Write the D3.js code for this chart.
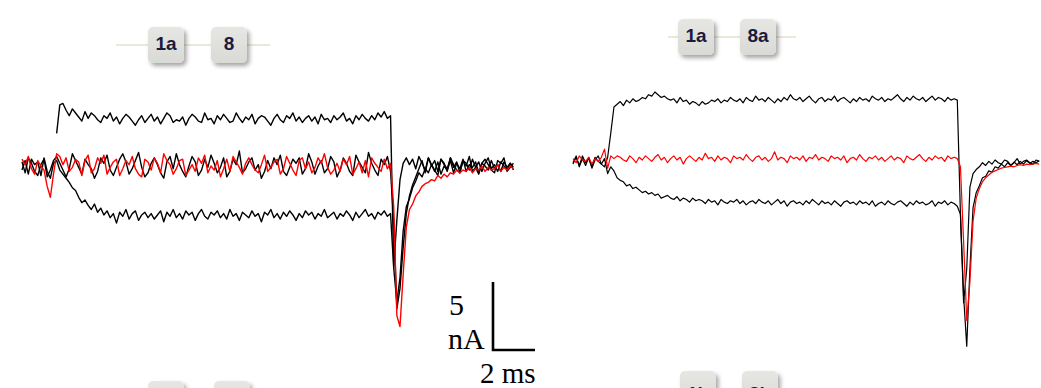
<!DOCTYPE html>
<html>
<head>
<meta charset="utf-8">
<script src="https://cdn.jsdelivr.net/npm/d3@7"></script>
<style>
  body { margin: 0; background: #fff; }
  svg { display: block; }
</style>
</head>
<body>
<div id="chart"></div>
<script>
// sampling interval of the traces (ms)
const dt = 0.15;

// left recording (nA), sample index -> t = i * dt
const leftMidStart = 0;
const leftMid = [
  0.3, -0.5, 0.6, 0.2, -0.4, -0.7, 0.1, 0.5, -0.8, -0.3, 0.4,
  0.7, 0.2, -0.3, -0.8, -0.2, 0.9, 0.4, -0.1, -0.6, 0.5,
  0.1, -0.2, -0.9, -0.4, 0.6, 0.2, 0.8, -0.3, -0.7, -0.1,
  0.5, 0.9, 0.3, -0.6, -0.2, 0.4, 1.0, -0.1, -0.8, -0.5,
  0.2, 0.6, 0.1, -0.5, -0.9, 0.3, 0.7, -0.2, 0.9, 0.1,
  -0.4, -0.8, 0.0, 0.7, 0.3, -0.7, -0.3, 0.5, -0.1, 0.8,
  0.2, -0.5, -0.1, 0.6, -0.8, -0.4, 0.5, 0.1, 1.1, -0.5,
  -0.2, 0.3, 0.6, -0.3, 0.1, -0.9, -0.4, 0.4, -0.2, 0.6,
  0.1, 0.8, -0.4, -0.7, -0.1, 0.5, 0.2, 0.6, -0.6, -0.2,
  0.9, 0.3, -0.6, 0.0, 0.4, -0.5, -0.2, 0.7, 0.3, -0.8,
  -0.3, 0.6, 0.2, -0.4, -0.7, 0.8, 0.3, -0.1, -0.5, 1.0,
  0.2, -0.3, -0.7, 0.5, 0.1, 0.7, -0.4,
  -4.0, -10.5, -9.0, -6.0, -3.5, -2.2, -1.4,
  -0.8, -0.2, 0.4, -0.5, 0.6, 0.1, -0.3, -0.7, 0.5, 0.2, -0.4,
  0.6, 0.1, -0.3, -0.5, 0.4, 0.0, 0.7, -0.4, -0.1, -0.6,
  0.2, 0.5, 0.1, -0.3, -0.5, 0.4, 0.2, 0.6, -0.4, -0.1, 0.2
];

const leftRedStart = 0;
const leftRed = [
  0.5, 0.1, 0.7, -0.2, -0.6, 0.4, 0.0, -0.3, -1.5, -2.3, -0.6,
  0.9, 0.7, 0.1, 0.6, -0.4, -0.1, 0.5, 0.3, -0.7, 0.4,
  0.8, -0.5, -0.2, 0.6, 0.2, 0.8, -0.6, -0.1, 0.3, 0.5,
  -0.7, -0.2, 0.4, 0.1, 0.7, -0.2, -0.6, -0.8, 0.5, 0.3,
  -0.3, 0.6, 0.2, -0.5, 0.9, 0.4, 0.1, -0.6, -0.2, 0.4,
  0.5, -0.7, -0.3, 0.1, -0.4, 0.6, 0.2, 0.8, -0.5, 0.0,
  -0.3, 0.4, -0.8, -0.2, 0.5, -0.4, 0.7, 0.3, -0.1, -0.6,
  0.2, 0.6, 0.1, -0.3, -0.5, 0.1, 0.8, -0.4, -0.1, 0.3,
  0.5, -0.6, -0.2, 0.7, 0.2, -0.3, -0.7, 0.4, 0.6, -0.2,
  0.3, -0.5, -0.1, 0.6, 0.2, 0.9, -0.1, -0.6, -0.3, 0.2,
  -0.4, 0.5, 0.1, 0.7, -0.6, -0.2, 0.3, -0.5, 0.4, -0.8,
  0.6, 0.2, -0.1, -0.4, 0.5, -0.2, 0.2,
  -3.0, -11.0, -11.8, -8.0, -4.5, -3.2, -2.8, -2.2, -1.9, -1.5, -1.3, -1.2,
  -1.0, -1.1, -0.7, -0.9, -0.6, -0.8, -0.5, -0.6, -0.3, -0.5, -0.3,
  -0.4, -0.1, -0.5, -0.2, -0.3, 0.0, -0.4, -0.1, -0.3, -0.2, 0.1, -0.4, -0.1, -0.3, 0.0, -0.2
];

const leftTopStart = 11;
const leftTop = [
  2.4, 4.5, 4.6, 4.1, 3.7, 4.2, 3.9, 3.6, 3.3, 4.0,
  3.5, 3.9, 3.7, 3.4, 3.2, 3.7, 3.5, 3.9, 3.3, 3.6,
  3.1, 3.5, 3.8, 3.6, 3.3, 3.0, 3.4, 3.7, 3.2, 3.5,
  3.8, 3.3, 3.6, 3.1, 3.5, 3.9, 3.7, 3.2, 3.4, 3.3,
  3.6, 3.0, 3.5, 3.8, 3.6, 3.3, 3.2, 3.9, 3.4, 3.5,
  3.1, 3.7, 3.4, 3.8, 3.5, 3.2, 3.3, 3.9, 3.5, 3.2,
  3.6, 3.4, 3.8, 3.1, 3.5, 3.7, 3.6, 3.3, 3.0, 3.5,
  3.8, 3.4, 3.2, 3.7, 3.5, 3.9, 3.3, 3.6, 3.2, 3.5,
  3.7, 3.3, 3.6, 3.1, 3.8, 3.4, 3.5, 3.2, 3.7, 3.4,
  3.6, 3.9, 3.3, 3.5, 3.1, 3.7, 3.4, 3.8, 3.5, 3.3,
  3.7, 3.4, 3.9, 3.6, 4.0, 3.5, 3.7,
  -7.4, -4.0, -1.0, 0.2, 0.6, 0.1, 0.5,
  -0.2, 0.7, 0.2, -0.3, 0.6, 0.0, 0.4, -0.4, 0.5, 0.1,
  -0.2, 0.6, -0.1, 0.3, -0.5, 0.4, 0.2, -0.3, 0.5, -0.1,
  0.3, -0.4, 0.2, 0.6, -0.2, 0.1, -0.4, 0.3, 0.0, -0.3, 0.2, -0.1
];

const leftBottomStart = 0;
const leftBottom = [
  -0.3, 0.4, -0.6, 0.5, 0.1, 0.3, -0.7, 0.6, -0.4, -0.9, 0.2,
  0.4, -0.3, -0.6, -0.9, -1.2, -1.6, -1.8, -2.3, -2.7, -2.5,
  -2.9, -3.2, -2.8, -3.4, -3.1, -3.6, -3.3, -3.8, -3.5, -4.2,
  -3.4, -3.7, -3.2, -3.9, -3.5, -3.3, -4.0, -3.6, -3.4, -3.8,
  -3.5, -3.9, -3.6, -3.3, -4.1, -3.4, -3.7, -3.2, -3.8, -3.5,
  -3.9, -3.3, -3.6, -3.4, -4.0, -3.5, -3.2, -3.7, -3.9, -3.4,
  -3.6, -3.3, -3.8, -3.5, -3.9, -3.2, -3.7, -3.5, -4.0, -3.4,
  -3.6, -3.8, -3.3, -3.7, -3.5, -4.1, -3.4, -3.6, -3.2, -3.8,
  -3.5, -3.9, -3.4, -3.7, -3.3, -3.6, -4.0, -3.5, -3.8, -3.3,
  -3.6, -3.4, -3.9, -3.5, -3.7, -3.2, -3.8, -3.6, -3.4, -3.9,
  -3.5, -3.7, -3.3, -3.6, -4.0, -3.4, -3.8, -3.5, -3.2, -3.7,
  -3.5, -3.9, -3.4, -3.6, -3.3, -3.7, -3.5,
  -7.5, -10.0, -8.2, -4.8, -3.0, -2.4, -1.6, -1.1, -0.5, -0.8, -0.2, -0.5,
  0.1, -0.4, 0.3, -0.6, 0.0, -0.3, 0.4, -0.5, 0.2, -0.2,
  0.5, -0.4, 0.1, -0.1, 0.3, -0.5, 0.2, 0.0, -0.3, 0.4,
  -0.2, 0.1, -0.4, 0.3, -0.1, 0.2, -0.3
];

// right recording (nA)
const rightTop = [
  -0.2, 0.3, -0.5, 0.1, -0.4, 0.2, -0.6, 0.0, 0.3, -0.3, -0.5, 0.2,
  2.0, 3.9, 4.1, 4.3, 4.0, 4.4, 4.2, 4.5, 4.3,
  4.4, 4.6, 4.5, 4.8, 4.7, 5.0, 4.8, 4.6, 4.7, 4.5,
  4.4, 4.5, 4.2, 4.6, 4.3, 4.4, 4.1, 4.3, 4.2, 4.0,
  4.3, 4.1, 4.2, 4.4, 4.3, 4.5, 4.2, 4.4, 4.3, 4.6,
  4.4, 4.3, 4.5, 4.2, 4.6, 4.4, 4.3, 4.7, 4.4, 4.5,
  4.3, 4.6, 4.4, 4.2, 4.5, 4.3, 4.6, 4.4, 4.8, 4.5,
  4.4, 4.6, 4.3, 4.5, 4.7, 4.4, 4.2, 4.5, 4.6, 4.3,
  4.5, 4.4, 4.7, 4.3, 4.5, 4.6, 4.4, 4.2, 4.5, 4.3,
  4.6, 4.4, 4.5, 4.3, 4.7, 4.5, 4.4, 4.6, 4.3, 4.5,
  4.4, 4.6, 4.8, 4.5, 4.3, 4.6, 4.4, 4.7, 4.5, 4.4,
  4.6, 4.3, 4.5, 4.7, 4.4, 4.6, 4.5, 4.3, 4.6, 4.4, 4.5, 4.4,
  -4.0, -10.0, -13.7, -8.0, -3.5, -2.4, -1.9, -1.3, -1.2, -0.8, -0.9, -0.5, -0.6,
  -0.3, -0.5, -0.2, -0.4, -0.15, -0.35, -0.1, -0.3, -0.05, -0.25, -0.1, -0.2, -0.05
];

const rightRed = [
  0.1, -0.2, 0.3, 0.0, -0.1, 0.2, -0.3, 0.1, -0.1, 0.2,
  0.8, -0.6, 0.3,
  0.1, 0.3, 0.2, 0.0, -0.1, 0.3, 0.1, -0.2, 0.2, 0.0,
  0.3, 0.1, -0.1, 0.2, 0.4, 0.0, 0.2, -0.2, 0.1, 0.3,
  0.0, 0.2, -0.3, 0.1, 0.3, 0.1, -0.1, 0.2, 0.0, 0.5,
  0.1, 0.2, -0.1, 0.3, 0.0, 0.2, 0.1, -0.2, 0.3, 0.1,
  0.2, 0.0, 0.4, 0.1, -0.1, 0.2, 0.3, 0.0, 0.2, -0.1,
  0.1, 0.6, 0.0, 0.2, 0.1, -0.2, 0.3, 0.1, 0.2, 0.0,
  0.3, -0.1, 0.2, 0.1, 0.4, 0.0, 0.2, 0.1, -0.1, 0.3,
  0.1, 0.2, 0.0, 0.3, -0.2, 0.1, 0.2, 0.0, 0.4, 0.1,
  -0.1, 0.2, 0.1, 0.3, 0.0, 0.2, -0.1, 0.1, 0.3, 0.0,
  0.2, 0.1, -0.2, 0.3, 0.1, 0.0, 0.2, 0.4, 0.1, -0.1,
  0.2, 0.0, 0.3, 0.1, 0.2, -0.1, 0.3, 0.1, 0.2, 0.1,
  -0.5, -6.0, -11.8, -9.0, -4.5, -2.8, -2.1, -1.6, -1.3, -1.1, -0.9, -0.8, -0.7,
  -0.6, -0.55, -0.5, -0.45, -0.5, -0.4, -0.35, -0.4, -0.3, -0.35, -0.3, -0.25, -0.3
];

const rightBottom = [
  -0.3, 0.2, -0.4, 0.3, -0.2, 0.1, -0.5, 0.2, -0.1, -0.3, 0.1, -1.0,
  -0.5, -0.8, -1.3, -1.5, -1.6, -1.9, -1.8, -2.1, -2.0,
  -2.2, -2.4, -2.3, -2.5, -2.4, -2.6, -2.5, -2.8, -2.7, -2.6,
  -2.8, -2.9, -2.7, -3.0, -2.8, -2.9, -3.1, -2.8, -3.0, -2.9,
  -3.0, -3.2, -2.9, -3.1, -3.0, -3.3, -2.9, -3.1, -3.2, -3.0,
  -3.1, -2.9, -3.2, -3.0, -3.3, -3.1, -3.0, -3.2, -2.9, -3.1,
  -3.2, -3.0, -3.3, -3.1, -2.9, -3.2, -3.0, -3.4, -3.1, -3.0,
  -3.2, -3.1, -3.3, -3.0, -3.2, -2.9, -3.1, -3.3, -3.0, -3.2,
  -3.1, -3.3, -3.0, -3.2, -3.4, -3.1, -3.0, -3.2, -3.1, -3.3,
  -3.0, -3.2, -3.1, -3.3, -3.0, -3.4, -3.2, -3.1, -3.3, -3.0,
  -3.2, -3.3, -3.1, -3.0, -3.2, -3.4, -3.1, -3.3, -3.0, -3.2,
  -3.1, -3.3, -3.2, -3.0, -3.4, -3.1, -3.2, -3.0, -3.3, -3.1, -3.2, -3.4,
  -4.0, -10.5, -8.0, -2.0, -1.0, -0.7, -0.5, -0.2, -0.4, -0.1, -0.3, 0.0, -0.2,
  -0.3, 0.0, -0.1, -0.4, -0.2, 0.1, -0.3, -0.1, 0.0, -0.2, -0.3, 0.0, -0.1
];

// condition labels
const leftLabels = ["1a", "8"];
const rightLabels = ["1a", "8a"];
const lowerLeftLabels = ["", ""];
const lowerRightLabels = ["1b", "8b"];

// scale bar
const barCurrent = 5;   // nA
const barTime = 2;      // ms
const barCurrentText = ["5", "nA"];
const barTimeText = "2 ms";

const W = 1041, H = 388;
const pxPerMs = 21, pxPerNA = 13.6;

const svg = d3.select("#chart").append("svg")
  .attr("width", W)
  .attr("height", H);

const defs = svg.append("defs");
defs.append("filter")
  .attr("id", "shadow")
  .attr("x", "-30%").attr("y", "-30%")
  .attr("width", "170%").attr("height", "170%")
  .append("feDropShadow")
  .attr("dx", 2.5).attr("dy", 3)
  .attr("stdDeviation", 2)
  .attr("flood-color", "#000")
  .attr("flood-opacity", 0.35);

const grad = defs.append("linearGradient")
  .attr("id", "boxfill")
  .attr("x1", "0%").attr("y1", "0%")
  .attr("x2", "0%").attr("y2", "100%");
grad.append("stop").attr("offset", "0%").attr("stop-color", "#e6e6e3");
grad.append("stop").attr("offset", "100%").attr("stop-color", "#d9d9d5");

// scales for each panel
const xLeft = d3.scaleLinear().domain([0, 1]).range([22, 22 + pxPerMs]);
const yLeft = d3.scaleLinear().domain([0, 1]).range([166, 166 - pxPerNA]);
const xRight = d3.scaleLinear().domain([0, 1]).range([573, 573 + pxPerMs]);
const yRight = d3.scaleLinear().domain([0, 1]).range([160, 160 - pxPerNA]);

function series(values, start) {
  return values.map((v, i) => ({ t: (start + i) * dt, v: v }));
}

function drawTrace(x, y, values, start, color, width) {
  const line = d3.line()
    .x(d => x(d.t))
    .y(d => y(d.v));
  svg.append("path")
    .datum(series(values, start))
    .attr("d", line)
    .attr("fill", "none")
    .attr("stroke", color)
    .attr("stroke-width", width)
    .attr("stroke-linejoin", "round");
}

// left panel
drawTrace(xLeft, yLeft, leftTop, leftTopStart, "#000", 1.4);
drawTrace(xLeft, yLeft, leftBottom, leftBottomStart, "#000", 1.4);
drawTrace(xLeft, yLeft, leftMid, leftMidStart, "#000", 1.4);
drawTrace(xLeft, yLeft, leftRed, leftRedStart, "#f00", 1.4);

// right panel
drawTrace(xRight, yRight, rightTop, 0, "#000", 1.2);
drawTrace(xRight, yRight, rightBottom, 0, "#000", 1.2);
drawTrace(xRight, yRight, rightRed, 0, "#f00", 1.2);

// label boxes joined by a thin line
function drawLabels(labels, boxX, top, lineFrom, lineTo, textDy) {
  const g = svg.append("g");
  const size = 36;
  g.append("line")
    .attr("x1", lineFrom).attr("x2", lineTo)
    .attr("y1", top + size / 2).attr("y2", top + size / 2)
    .attr("stroke", "#e4e0cc")
    .attr("stroke-width", 1.5);
  labels.forEach((lab, i) => {
    g.append("rect")
      .attr("x", boxX[i]).attr("y", top)
      .attr("width", size).attr("height", size)
      .attr("rx", 5)
      .attr("fill", "url(#boxfill)")
      .attr("filter", "url(#shadow)");
    if (lab) {
      g.append("text")
        .attr("x", boxX[i] + size / 2)
        .attr("y", top + textDy)
        .attr("text-anchor", "middle")
        .attr("font-family", "Liberation Sans, Arial, sans-serif")
        .attr("font-size", 19)
        .attr("font-weight", "bold")
        .attr("fill", "#1a1a3c")
        .text(lab);
    }
  });
}

drawLabels(leftLabels, [148, 211], 27, 116, 270, 23);
drawLabels(rightLabels, [678, 740], 19, 668, 796, 23);
drawLabels(lowerLeftLabels, [148, 214], 381, 116, 270, 23);
drawLabels(lowerRightLabels, [680, 742], 371, 668, 796, 29);

// scale bar
const barX = 493, barY = 350;
const vLen = yLeft(0) - yLeft(barCurrent);
const hLen = xLeft(barTime) - xLeft(0);
svg.append("path")
  .attr("d", `M${barX},${barY - vLen}V${barY}H${barX + hLen}`)
  .attr("fill", "none")
  .attr("stroke", "#000")
  .attr("stroke-width", 2.6);

const serif = "Liberation Serif, Times New Roman, serif";
svg.append("text")
  .attr("x", 449).attr("y", 315)
  .attr("font-family", serif).attr("font-size", 30)
  .text(barCurrentText[0]);
svg.append("text")
  .attr("x", 448).attr("y", 349)
  .attr("font-family", serif).attr("font-size", 30)
  .text(barCurrentText[1]);
svg.append("text")
  .attr("x", 480).attr("y", 383)
  .attr("font-family", serif).attr("font-size", 29)
  .text(barTimeText);
</script>
</body>
</html>
